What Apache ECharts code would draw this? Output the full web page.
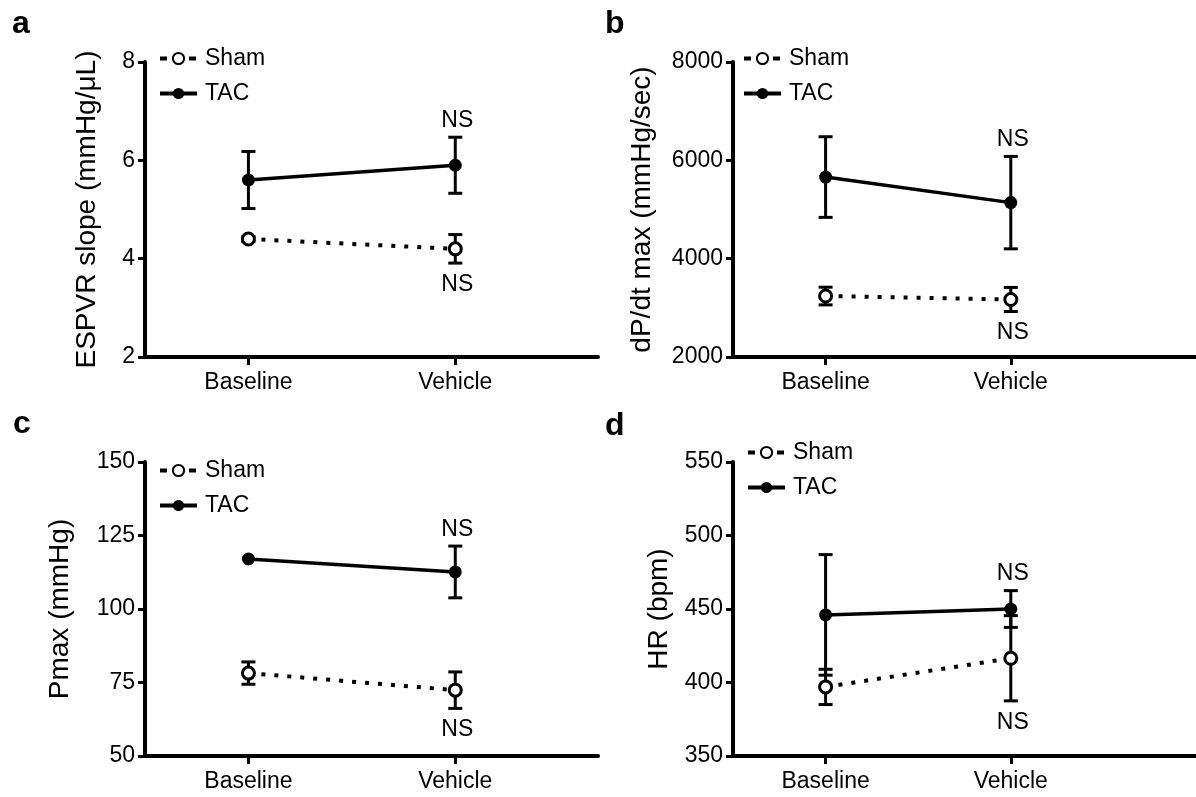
<!DOCTYPE html>
<html>
<head>
<meta charset="utf-8">
<script src="https://cdn.jsdelivr.net/npm/echarts@6/dist/echarts.min.js"></script>
<style>
  html, body { margin: 0; padding: 0; background: #fff; }
  #chart { width: 1196px; height: 797px; }
</style>
</head>
<body>
<div id="chart"></div>
<script>
// group means and SEM
const categories = ['Baseline', 'Vehicle'];
const nsText = 'NS';

const espvrTicks = [2, 4, 6, 8];
const espvrSham = [4.4, 4.2];
const espvrShamErr = [0.05, 0.29];
const espvrTac = [5.6, 5.9];
const espvrTacErr = [0.58, 0.57];

const dpdtTicks = [2000, 4000, 6000, 8000];
const dpdtSham = [3240, 3170];
const dpdtShamErr = [180, 245];
const dpdtTac = [5660, 5140];
const dpdtTacErr = [820, 940];

const pmaxTicks = [50, 75, 100, 125, 150];
const pmaxSham = [78.2, 72.4];
const pmaxShamErr = [3.8, 6.2];
const pmaxTac = [117, 112.6];
const pmaxTacErr = [0, 8.8];

const hrTicks = [350, 400, 450, 500, 550];
const hrSham = [397, 416.5];
const hrShamErr = [12, 29];
const hrTac = [446, 450];
const hrTacErr = [41, 12.5];

const FONT = '"Liberation Sans", Arial, sans-serif';

const panels = [
    { letter: 'a', name: 'ESPVR slope (mmHg/\u03bcL)', ticks: espvrTicks, sham: espvrSham, shamErr: espvrShamErr, tac: espvrTac, tacErr: espvrTacErr,
      grid: { left: 145, top: 62, width: 453, height: 295 }, xMin: 0.5, xMax: 2.69, nameGap: 44,
      legend: { left: 153, top: 41 }, letterPos: [12, 33] },
    { letter: 'b', name: 'dP/dt max (mmHg/sec)', ticks: dpdtTicks, sham: dpdtSham, shamErr: dpdtShamErr, tac: dpdtTac, tacErr: dpdtTacErr,
      grid: { left: 733, top: 62, width: 470, height: 295 }, xMin: 0.5, xMax: 3.0, nameGap: 77,
      legend: { left: 737, top: 41 }, letterPos: [605, 33] },
    { letter: 'c', name: 'Pmax (mmHg)', ticks: pmaxTicks, sham: pmaxSham, shamErr: pmaxShamErr, tac: pmaxTac, tacErr: pmaxTacErr,
      grid: { left: 145, top: 462, width: 453, height: 294 }, xMin: 0.5, xMax: 2.69, nameGap: 71,
      legend: { left: 153, top: 453 }, letterPos: [13, 433] },
    { letter: 'd', name: 'HR (bpm)', ticks: hrTicks, sham: hrSham, shamErr: hrShamErr, tac: hrTac, tacErr: hrTacErr,
      grid: { left: 733, top: 462, width: 470, height: 294 }, xMin: 0.5, xMax: 3.0, nameGap: 60,
      legend: { left: 741, top: 435 }, letterPos: [605, 435] }
];

function errorBars(params, api) {
    const x = api.value(0);
    if (api.value(1) === api.value(2)) return null;
    const lo = api.coord([x, api.value(1)]);
    const hi = api.coord([x, api.value(2)]);
    const w = 7;
    const style = { stroke: '#000', lineWidth: 3 };
    return {
        type: 'group',
        children: [
            { type: 'line', shape: { x1: lo[0], y1: lo[1], x2: hi[0], y2: hi[1] }, style: style },
            { type: 'line', shape: { x1: hi[0] - w, y1: hi[1], x2: hi[0] + w, y2: hi[1] }, style: style },
            { type: 'line', shape: { x1: lo[0] - w, y1: lo[1], x2: lo[0] + w, y2: lo[1] }, style: style }
        ]
    };
}

function nsMark(params, api) {
    const dir = api.value(2);
    const p = api.coord([api.value(0), api.value(1)]);
    return {
        type: 'text',
        x: p[0] + 2,
        y: dir > 0 ? p[1] - 5 : p[1] + 10,
        style: {
            text: nsText, fill: '#000', font: '23px ' + FONT,
            align: 'center', verticalAlign: dir > 0 ? 'bottom' : 'top'
        }
    };
}

const grid = [], xAxis = [], yAxis = [], series = [], legend = [], graphic = [];

panels.forEach((p, i) => {
    grid.push(Object.assign({ containLabel: false }, p.grid));
    xAxis.push({
        type: 'value', gridIndex: i, min: p.xMin, max: p.xMax,
        splitLine: { show: false },
        axisLine: { lineStyle: { color: '#000', width: 4 } },
        axisTick: { customValues: [1, 2], length: 8, lineStyle: { color: '#000', width: 3 } },
        axisLabel: {
            customValues: [1, 2], margin: 14, color: '#000', fontSize: 23, fontFamily: FONT,
            formatter: v => categories[Math.round(v) - 1]
        }
    });
    yAxis.push({
        type: 'value', gridIndex: i,
        min: p.ticks[0], max: p.ticks[p.ticks.length - 1], interval: p.ticks[1] - p.ticks[0],
        splitLine: { show: false },
        axisLine: { show: true, lineStyle: { color: '#000', width: 4 } },
        axisTick: { show: true, length: 7, lineStyle: { color: '#000', width: 3 } },
        axisLabel: { margin: 10, color: '#000', fontSize: 23, fontFamily: FONT, formatter: v => String(v) },
        name: p.name, nameLocation: 'middle', nameGap: p.nameGap,
        nameTextStyle: { color: '#000', fontSize: 28, fontFamily: FONT }
    });

    const shamPts = categories.map((c, k) => [k + 1, p.sham[k]]);
    const tacPts = categories.map((c, k) => [k + 1, p.tac[k]]);
    const bars = [];
    categories.forEach((c, k) => {
        bars.push([k + 1, p.sham[k] - p.shamErr[k], p.sham[k] + p.shamErr[k]]);
        bars.push([k + 1, p.tac[k] - p.tacErr[k], p.tac[k] + p.tacErr[k]]);
    });
    const last = categories.length - 1;
    const marks = [
        [last + 1, p.tac[last] + p.tacErr[last], 1],
        [last + 1, p.sham[last] - p.shamErr[last], -1]
    ];

    series.push({
        type: 'custom', xAxisIndex: i, yAxisIndex: i, z: 1, clip: false,
        renderItem: errorBars, data: bars, encode: { x: 0, y: [1, 2] }, silent: true
    });
    series.push({
        name: 'Sham', type: 'line', xAxisIndex: i, yAxisIndex: i, z: 3, data: shamPts,
        symbol: 'circle', symbolSize: 12, showAllSymbol: true,
        itemStyle: { color: '#fff', borderColor: '#000', borderWidth: 3 },
        lineStyle: { color: '#000', width: 4, type: [4, 9] }
    });
    series.push({
        name: 'TAC', type: 'line', xAxisIndex: i, yAxisIndex: i, z: 3, data: tacPts,
        symbol: 'circle', symbolSize: 13,
        itemStyle: { color: '#000' },
        lineStyle: { color: '#000', width: 3.5 }
    });
    series.push({
        type: 'custom', xAxisIndex: i, yAxisIndex: i, z: 4, clip: false,
        renderItem: nsMark, data: marks, encode: { x: 0, y: 1 }, silent: true
    });

    legend.push({
        data: [
            { name: 'Sham', lineStyle: { width: 4, type: [7, 22] } },
            { name: 'TAC', lineStyle: { width: 4 } }
        ],
        orient: 'vertical', left: p.legend.left, top: p.legend.top,
        itemWidth: 37, itemHeight: 14, itemGap: 10, selectedMode: false,
        textStyle: { color: '#000', fontSize: 23, fontFamily: FONT, lineHeight: 25, padding: [0, 0, 0, 3] }
    });

    graphic.push({
        type: 'text', left: p.letterPos[0], top: p.letterPos[1] - 25,
        style: { text: p.letter, fill: '#000', font: 'bold 32px ' + FONT }
    });
});

const chart = echarts.init(document.getElementById('chart'), null, { renderer: 'canvas' });
chart.setOption({
    backgroundColor: '#fff',
    animation: false,
    grid: grid,
    xAxis: xAxis,
    yAxis: yAxis,
    legend: legend,
    graphic: graphic,
    series: series
});
</script>
</body>
</html>
